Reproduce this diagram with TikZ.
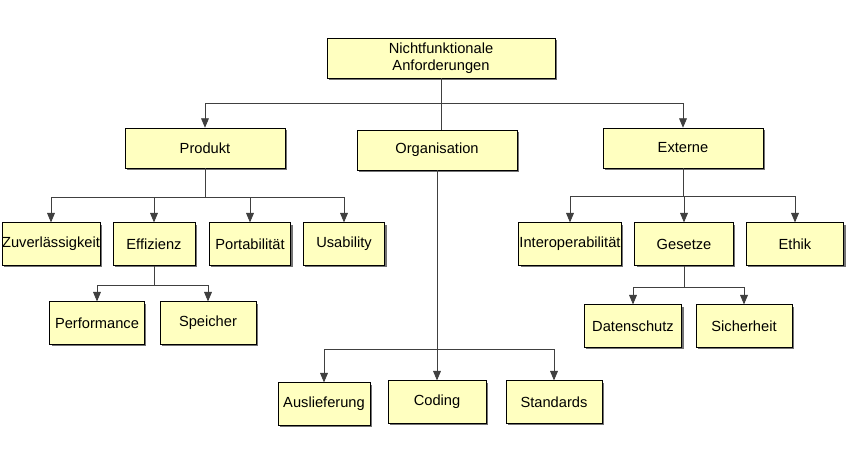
\documentclass[tikz,border=0pt]{standalone}
\usepackage{fontspec}
\setmainfont{Liberation Sans}
\usepackage{tikz}
\usetikzlibrary{arrows,shadows}
\definecolor{boxfill}{RGB}{255,255,192}

\begin{document}
\begin{tikzpicture}
		[x=0.75pt,y=-0.75pt,
		 b/.style= {draw=black,fill=boxfill,inner sep=0pt,minimum width=#1,minimum height=32pt,
		 	font=\fontsize{11}{13}\selectfont,align=center,
		 	drop shadow={shadow xshift=1.6pt,shadow yshift=-1.6pt,fill=black!55,opacity=1}},
		 l/.style= {draw=black!75,line width=0.6pt,-triangle 45}]

		\useasboundingbox (0,0) rectangle (849,470);

		\node[b=171pt,minimum height=30pt] (root) at (441,58) {Nichtfunktionale\\Anforderungen};

		\node[b=120pt,minimum height=30pt] (prod) at (205,148) {Produkt};
		\node[b=120pt,minimum height=30pt] (org)  at (437,150) {Organisation};
		\node[b=120pt,minimum height=30pt] (ext)  at (683,148) {Externe};

		\node[b=73.5pt] (zuv)  at ( 51,244) {Zuverlässigkeit};
		\node[b=61.5pt] (eff)  at (154,244) {Effizienz};
		\node[b=61pt]   (port) at (250,244) {Portabilität};
		\node[b=61pt]   (usab) at (344,244) {Usability};

		\node[b=71pt] (perf) at ( 97,323) {Performance};
		\node[b=72pt] (spei) at (208,323) {Speicher};

		\node[b=69pt]   (ausl) at (324,404) {Auslieferung};
		\node[b=73.5pt] (cod)  at (437,402) {Coding};
		\node[b=72pt]   (stan) at (554,402) {Standards};

		\node[b=77pt] (inter) at (570,244) {Interoperabilität};
		\node[b=74pt] (ges)   at (684,244) {Gesetze};
		\node[b=73pt] (eth)   at (795,244) {Ethik};

		\node[b=73pt] (dat) at (633,326) {Datenschutz};
		\node[b=72pt] (sich) at (744,326) {Sicherheit};

		% Ebene 1
		\draw[l] (root.south) -- ++(0,25) -| (prod.north);
		\draw[l] (root.south) -- ++(0,25) -| (ext.north);
		\draw[draw=black!75,line width=0.6pt] (root.south) -- (root.south |- org.north);

		% Produkt
		\draw[l] (prod.south) -- ++(0,29) -| (zuv.north);
		\draw[l] (prod.south) -- ++(0,29) -| (eff.north);
		\draw[l] (prod.south) -- ++(0,29) -| (port.north);
		\draw[l] (prod.south) -- ++(0,29) -| (usab.north);

		\draw[l] (eff.south) -- ++(0,20) -| (perf.north);
		\draw[l] (eff.south) -- ++(0,20) -| (spei.north);

		% Organisation
		\draw[l] (org.south) -- ++(0,179) -| (ausl.north);
		\draw[l] (org.south) -- (cod.north);
		\draw[l] (org.south) -- ++(0,179) -| (stan.north);

		% Externe
		\draw[l] (ext.south) -- ++(0,28) -| (inter.north);
		\draw[l] (ext.south) -- ++(0,28) -| (ges.north);
		\draw[l] (ext.south) -- ++(0,28) -| (eth.north);

		\draw[l] (ges.south) -- ++(0,22) -| (dat.north);
		\draw[l] (ges.south) -- ++(0,22) -| (sich.north);

	\end{tikzpicture}
\end{document}
